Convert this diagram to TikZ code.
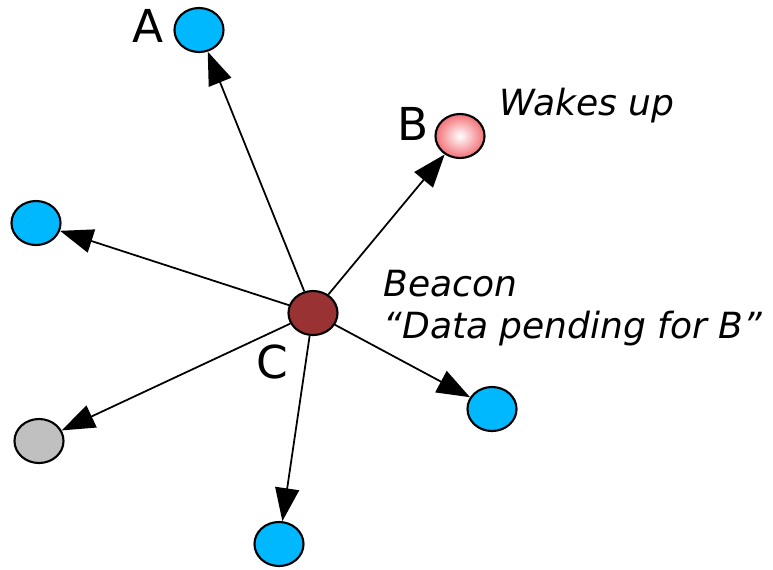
\documentclass[tikz,border=0pt]{standalone}
\usepackage{fontspec}
\setmainfont{DejaVu Sans}
\usepackage{xcolor}
\usepackage{tikz}
\usetikzlibrary{shapes.geometric, arrows.meta}

\definecolor{nodeblue}{RGB}{0,184,255}
\definecolor{beaconred}{RGB}{153,51,51}
\definecolor{sleepgray}{RGB}{192,192,192}
\definecolor{wakepink}{RGB}{242,112,118}

\tikzset{
    station/.style={ellipse, draw=black, line width=0.6pt, inner sep=0pt,
        minimum width=0.49cm, minimum height=0.44cm},
    beam/.style={line width=0.5pt, -{Triangle[length=0.33cm, width=0.24cm]}},
    tag/.style={font=\fontsize{12.9}{15}\selectfont, inner sep=0pt},
    note/.style={font=\fontsize{10.25}{12}\selectfont\itshape, inner sep=0pt}
}

\begin{document}
\begin{tikzpicture}[x=0.01cm, y=-0.01cm]
        \useasboundingbox (0,0) rectangle (773,569);

        % Stations
        \node[station, fill=beaconred] (c) at (313,313) {};
        \node[station, fill=nodeblue] (a) at (199,30) {};
        \node[station, inner color=white, outer color=wakepink] (b) at (460,136) {};
        \node[station, fill=nodeblue] (w) at (36,223) {};
        \node[station, fill=sleepgray] (g) at (39,441) {};
        \node[station, fill=nodeblue] (s) at (279,544) {};
        \node[station, fill=nodeblue] (e) at (492,409) {};

        % Letters
        \node[tag, anchor=base west] (la) at (132,42) {A};
        \node[tag, anchor=base west] (lb) at (397,140) {B};
        \node[tag, anchor=base west] (lc) at (256,378) {C};

        % Beacon broadcast
        \draw[beam] (c) -- (a);
        \draw[beam] (c) -- (b);
        \draw[beam] (c) -- (w);
        \draw[beam] (c) -- (g);
        \draw[beam] (c) -- (s);
        \draw[beam] (c) -- (e);

        % Notes
        \node[note, anchor=base west] (wake) at (499,115) {Wakes up};
        \node[note, anchor=base west] (bcn) at (383,296) {Beacon};
        \node[note, anchor=base west] (pend) at (383,338) {``Data pending for B''};

    \end{tikzpicture}
\end{document}
